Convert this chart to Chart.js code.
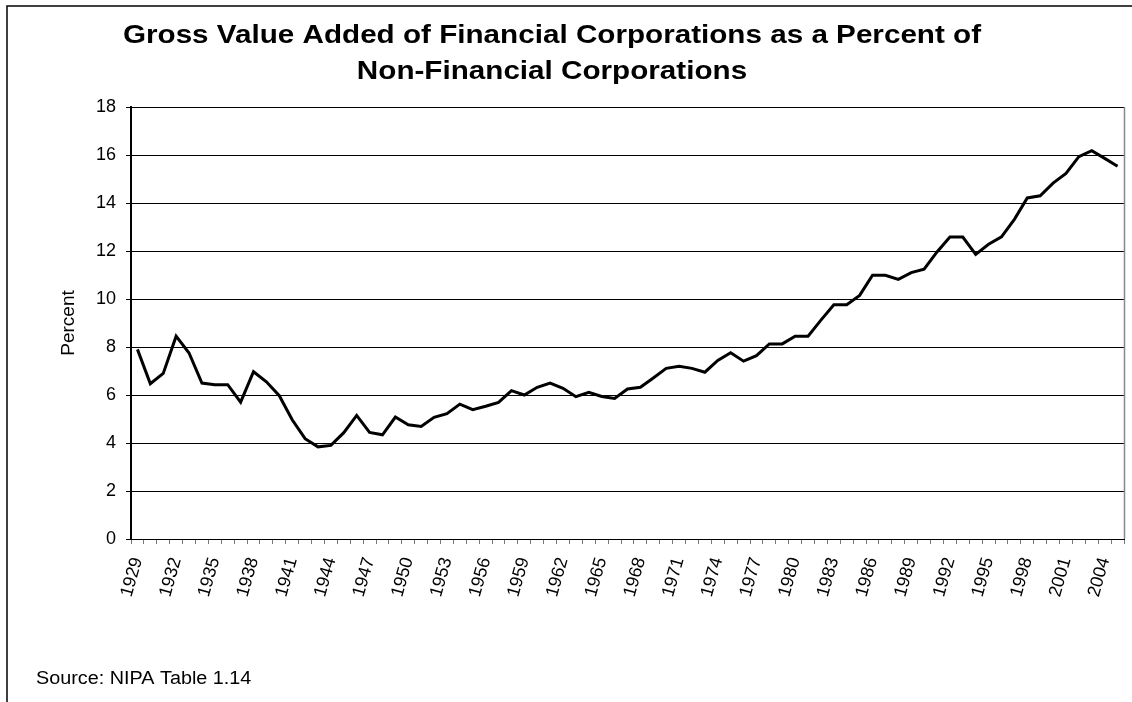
<!DOCTYPE html>
<html>
<head>
<meta charset="utf-8">
<script src="https://cdn.jsdelivr.net/npm/chart.js@4/dist/chart.umd.min.js"></script>
<style>
  html, body { margin: 0; padding: 0; background: #fff; }
  canvas { display: block; }
</style>
</head>
<body>
<canvas id="c" width="1132" height="702"></canvas>
<script>
const years = [];
for (let y = 1929; y <= 2005; y++) years.push(String(y));

const gvaPercent = [
  7.9, 6.47, 6.9, 8.45, 7.75, 6.5, 6.43, 6.43, 5.7, 6.97,
  6.55, 5.97, 4.97, 4.18, 3.84, 3.9, 4.43, 5.15, 4.44, 4.34,
  5.08, 4.76, 4.69, 5.07, 5.22, 5.62, 5.39, 5.53, 5.69, 6.18,
  6.0, 6.32, 6.5, 6.28, 5.93, 6.11, 5.94, 5.86, 6.25, 6.32,
  6.71, 7.11, 7.2, 7.11, 6.95, 7.44, 7.76, 7.41, 7.64, 8.13,
  8.13, 8.45, 8.45, 9.12, 9.76, 9.76, 10.15, 10.99, 10.99, 10.82,
  11.1, 11.24, 11.96, 12.58, 12.58, 11.86, 12.28, 12.59, 13.32, 14.21,
  14.3, 14.83, 15.23, 15.93, 16.18, 15.86, 15.53
];

const titleLines = ["Gross Value Added of Financial Corporations as a Percent of", "Non-Financial Corporations"];
const yAxisTitle = "Percent";
const sourceText = "Source: NIPA Table 1.14";
const labelEvery = 3;

const FONT = "'Liberation Sans', Arial, sans-serif";

const decor = {
  id: 'decor',
  beforeDraw(chart) {
    const ctx = chart.ctx;
    ctx.save();
    ctx.strokeStyle = '#000';
    ctx.lineWidth = 1.5;
    ctx.strokeRect(7, 6, 1300, 900);
    ctx.restore();
  },
  afterDraw(chart) {
    const ctx = chart.ctx;
    const a = chart.chartArea;
    ctx.save();
    ctx.strokeStyle = '#888';
    ctx.lineWidth = 1.5;
    ctx.beginPath();
    ctx.moveTo(a.right + 0.5, a.top);
    ctx.lineTo(a.right + 0.5, a.bottom);
    ctx.stroke();
    ctx.fillStyle = '#000';
    ctx.textAlign = 'center';
    ctx.textBaseline = 'alphabetic';
    ctx.font = "bold 26px " + FONT;
    const sx = 1.14;
    const cx = 552;
    const bases = [43, 79];
    titleLines.forEach((t, i) => {
      ctx.save();
      ctx.translate(cx, bases[i]);
      ctx.scale(sx, 1);
      ctx.fillText(t, 0, 0);
      ctx.restore();
    });
    ctx.textAlign = 'left';
    ctx.font = "18px " + FONT;
    ctx.save();
    ctx.translate(36, 684);
    ctx.scale(1.1, 1);
    ctx.fillText(sourceText, 0, 0);
    ctx.restore();
    ctx.restore();
  }
};

const PAD_LEFT = 57, PAD_TOP = 107, PAD_RIGHT = 8;
const PLOT_LEFT = 131, PLOT_BOTTOM = 539, H = 702;

new Chart(document.getElementById('c'), {
  type: 'line',
  data: {
    labels: years,
    datasets: [{
      data: gvaPercent,
      borderColor: '#000',
      borderWidth: 3,
      pointRadius: 0,
      tension: 0,
      fill: false
    }]
  },
  options: {
    responsive: false,
    animation: false,
    devicePixelRatio: 1,
    layout: { padding: { left: PAD_LEFT, top: PAD_TOP, right: PAD_RIGHT, bottom: 0 } },
    plugins: { legend: { display: false }, title: { display: false }, tooltip: { enabled: false } },
    scales: {
      x: {
        type: 'category',
        offset: true,
        afterFit(scale) {
          scale.height = H - PLOT_BOTTOM;
          scale.paddingLeft = 0;
          scale.paddingRight = 0;
        },
        grid: { display: true, drawOnChartArea: false, drawTicks: true, tickLength: 5, offset: true, color: '#777', lineWidth: 1 },
        border: { display: true, color: '#000', width: 1 },
        ticks: {
          autoSkip: false,
          maxRotation: 74,
          minRotation: 74,
          padding: 11,
          color: '#000',
          font: { family: FONT, size: 18 },
          callback(value, index) {
            return index % labelEvery === 0 ? years[index] : '';
          }
        }
      },
      y: {
        min: 0,
        max: 18,
        afterFit(scale) { scale.width = PLOT_LEFT - PAD_LEFT; },
        grid: { color: '#000', lineWidth: 1, drawTicks: true, tickLength: 5 },
        border: { display: true, color: '#000', width: 2 },
        ticks: {
          stepSize: 2,
          padding: 10,
          color: '#000',
          font: { family: FONT, size: 18 }
        },
        title: {
          display: true,
          text: yAxisTitle,
          color: '#000',
          padding: 0,
          font: { family: FONT, size: 19 }
        }
      }
    }
  },
  plugins: [decor]
});
</script>
</body>
</html>
